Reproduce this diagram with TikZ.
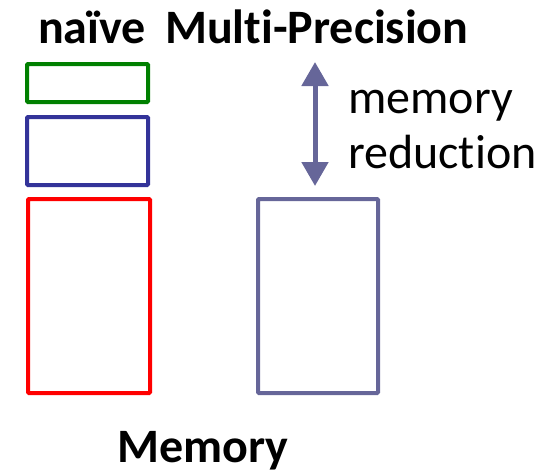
\documentclass[tikz,border=0pt]{standalone}
\usepackage{fontspec}
\setmainfont[Ligatures=NoCommon]{Carlito}
\usetikzlibrary{arrows.meta}
\definecolor{boxgreen}{RGB}{0,128,0}
\definecolor{boxblue}{RGB}{51,51,153}
\definecolor{boxred}{RGB}{255,0,0}
\definecolor{boxpurple}{RGB}{102,102,153}
\begin{document}
\begin{tikzpicture}[x=1pt,y=-1pt,
  membox/.style={draw, line width=4pt, rounded corners=1pt},
  lbl/.style={inner sep=0pt, anchor=base west, font=\fontsize{48}{52}\selectfont},
  ttl/.style={inner sep=0pt, anchor=base west, font=\bfseries\fontsize{48}{52}\selectfont}]
\useasboundingbox (0,0) rectangle (549,472);
\node[ttl] (naive) at (38,43) {naïve};
\node[ttl] (mp) at (165,43) {Multi-Precision};
\draw[membox, boxgreen] (27,64) rectangle (148,102) node[coordinate] (g) {};
\draw[membox, boxblue] (27,117) rectangle (148,185) node[coordinate] (b) {};
\draw[membox, boxred] (28,199) rectangle (150,393) node[coordinate] (r) {};
\draw[membox, boxpurple] (258,199) rectangle (378,393) node[coordinate] (p) {};
\coordinate (atop) at (315,62);
\coordinate (abot) at (315,186);
\draw[boxpurple, line width=5pt, {Triangle[width=26pt,length=24pt]}-{Triangle[width=26pt,length=24pt]}] (atop) -- (abot);
\node[lbl] (m1) at (348,113) {memory};
\node[lbl] (m2) at (348,168) {reduction};
\node[ttl] (mem) at (117,462) {Memory};
\end{tikzpicture}
\end{document}
